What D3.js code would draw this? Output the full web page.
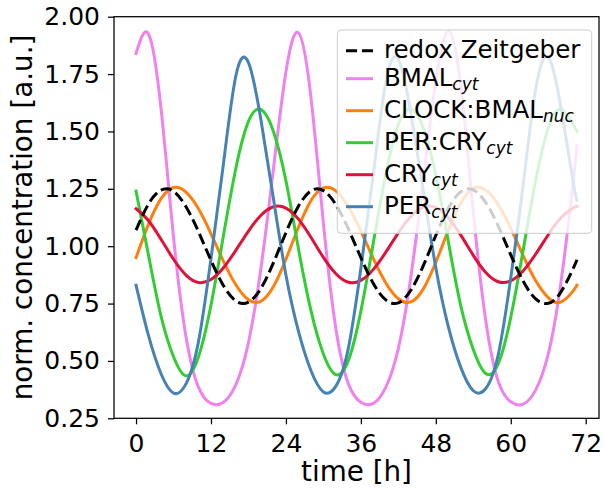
<!DOCTYPE html>
<html>
<head>
<meta charset="utf-8">
<script src="https://cdn.jsdelivr.net/npm/d3@7"></script>
<style>
  html, body { margin: 0; padding: 0; background: #ffffff; }
  svg { display: block; }
  text { font-family: "DejaVu Sans", sans-serif; fill: #000; }
</style>
</head>
<body>
<script>
// ---------------- data ----------------
const time = [0,2,4,6,8,10,12,14,16,18,20,22,24,26,28,30,32,34,36,38,40,42,44,46,48,50,52,54,56,58,60,62,64,66,68,70,70.6];

const redox = [1.07,1.184,1.244,1.239,1.172,1.063,0.938,0.828,0.761,0.756,0.816,0.928,
               1.059,1.174,1.241,1.242,1.181,1.075,0.950,0.837,0.766,0.753,0.808,0.915,
               1.047,1.165,1.237,1.245,1.190,1.087,0.962,0.847,0.770,0.751,0.799,0.903,0.941];

const bmalCyt = [1.84,1.925,1.60,1.04,0.605,0.385,0.315,0.32,0.398,0.58,0.905,1.337,
                 1.76,1.93,1.65,1.10,0.64,0.40,0.32,0.315,0.386,0.555,0.866,1.29,
                 1.72,1.937,1.70,1.15,0.675,0.41,0.322,0.312,0.374,0.53,0.835,1.28,1.44];

const clockBmalNuc = [0.95,1.096,1.207,1.256,1.236,1.163,1.054,0.934,0.831,0.767,0.760,0.824,
                      0.943,1.082,1.198,1.254,1.241,1.172,1.066,0.946,0.840,0.771,0.757,0.814,
                      0.930,1.069,1.188,1.252,1.245,1.181,1.078,0.958,0.849,0.776,0.756,0.805,0.83];

const perCryCyt = [1.24,0.96,0.695,0.518,0.435,0.518,0.744,1.047,1.342,1.544,1.595,1.50,
                   1.285,0.99,0.72,0.53,0.44,0.502,0.717,1.016,1.315,1.530,1.597,1.515,
                   1.31,1.02,0.74,0.55,0.445,0.488,0.690,0.985,1.288,1.514,1.597,1.53,1.50];

const cryCyt = [1.163,1.111,1.030,0.943,0.874,0.842,0.855,0.906,0.983,1.066,1.135,1.172,
                1.166,1.118,1.039,0.951,0.880,0.843,0.851,0.899,0.974,1.058,1.129,1.170,
                1.169,1.124,1.048,0.960,0.885,0.845,0.849,0.893,0.966,1.050,1.123,1.167,1.173];

const perCyt = [0.83,0.61,0.444,0.36,0.40,0.584,0.946,1.36,1.745,1.80,1.55,1.208,
                0.874,0.63,0.458,0.365,0.39,0.556,0.904,1.315,1.715,1.815,1.58,1.242,
                0.906,0.65,0.472,0.37,0.38,0.528,0.862,1.27,1.685,1.825,1.61,1.28,1.20];

const xTicks = [0,12,24,36,48,60,72];
const yTicks = [0.25,0.50,0.75,1.00,1.25,1.50,1.75,2.00];

const seriesNames = ["redox Zeitgeber","BMAL","CLOCK:BMAL","PER:CRY","CRY","PER"];
const seriesSubs  = ["","cyt","nuc","cyt","cyt","cyt"];
const seriesColors = ["#000000","#ee82ee","#ff7f0e","#32cd32","#dc143c","#4682b4"];
const seriesValues = [redox, bmalCyt, clockBmalNuc, perCryCyt, cryCyt, perCyt];

// ---------------- layout ----------------
const W = 604, H = 488;
const plot = {left: 114, right: 599, top: 16.7, bottom: 418.3};

const svg = d3.select("body").append("svg").attr("width", W).attr("height", H);
svg.append("rect").attr("width", W).attr("height", H).attr("fill", "#fff");

const x = d3.scaleLinear().domain([-3.53, 74.13]).range([plot.left, plot.right]);
const y = d3.scaleLinear().domain([0.25, 2.0]).range([plot.bottom, plot.top]);

svg.append("clipPath").attr("id", "clip")
  .append("rect").attr("x", plot.left).attr("y", plot.top)
  .attr("width", plot.right - plot.left).attr("height", plot.bottom - plot.top);

const line = d3.line().x(d => x(d[0])).y(d => y(d[1])).curve(d3.curveNatural);

const g = svg.append("g").attr("clip-path", "url(#clip)");
// draw colored series first, then redox on top
const order = [1,2,3,4,5,0];
order.forEach(i => {
  const pts = time.map((t, k) => [t, seriesValues[i][k]]);
  const p = g.append("path").attr("d", line(pts))
    .attr("fill", "none").attr("stroke", seriesColors[i])
    .attr("stroke-width", 3).attr("stroke-linejoin", "round");
  if (i === 0) p.attr("stroke-dasharray", "11.1,4.8");
  else p.attr("stroke-linecap", "square");
});

// axes
const xAxis = d3.axisBottom(x).tickValues(xTicks).tickSize(6).tickPadding(9.5).tickFormat(d3.format("d"));
const yAxis = d3.axisLeft(y).tickValues(yTicks).tickSize(6).tickPadding(8).tickFormat(d3.format(".2f"));

const gx = svg.append("g").attr("transform", `translate(0,${plot.bottom})`).call(xAxis);
const gy = svg.append("g").attr("transform", `translate(${plot.left},0)`).call(yAxis);
[gx, gy].forEach(a => {
  a.select(".domain").remove();
  a.selectAll(".tick line").attr("stroke", "#000").attr("stroke-width", 1.25);
  a.selectAll(".tick text").attr("font-size", 25).attr("font-family", "DejaVu Sans").attr("fill", "#000");
});

// frame
svg.append("rect").attr("x", plot.left).attr("y", plot.top)
  .attr("width", plot.right - plot.left).attr("height", plot.bottom - plot.top)
  .attr("fill", "none").attr("stroke", "#000").attr("stroke-width", 1.25);

// axis labels
svg.append("text").attr("x", (plot.left + plot.right) / 2).attr("y", 481)
  .attr("text-anchor", "middle").attr("font-size", 27.8).text("time [h]");
svg.append("text").attr("transform", `translate(32,${(plot.top + plot.bottom) / 2}) rotate(-90)`)
  .attr("text-anchor", "middle").attr("font-size", 27.8).text("norm. concentration [a.u.]");

// legend
const leg = svg.append("g");
leg.append("rect").attr("x", 337.3).attr("y", 30).attr("width", 254.4).attr("height", 203.3)
  .attr("rx", 4).attr("ry", 4)
  .attr("fill", "#fff").attr("fill-opacity", 0.8)
  .attr("stroke", "#cccccc").attr("stroke-width", 1);

const rowY = (i) => i === 0 ? 50.7 : 78.7 + (i - 1) * 32;
seriesNames.forEach((name, i) => {
  const yy = rowY(i);
  const ln = leg.append("line").attr("x1", 346).attr("x2", 373).attr("y1", yy).attr("y2", yy)
    .attr("stroke", seriesColors[i]).attr("stroke-width", 3);
  if (i === 0) ln.attr("stroke-dasharray", "11.1,4.8");
  const t = leg.append("text").attr("x", 384).attr("y", yy + 7).attr("font-size", 24.5);
  t.append("tspan").text(name);
  if (seriesSubs[i]) {
    t.append("tspan").attr("font-size", 17).attr("font-style", "italic")
      .attr("dy", 4).text(seriesSubs[i]);
  }
});
</script>
</body>
</html>
